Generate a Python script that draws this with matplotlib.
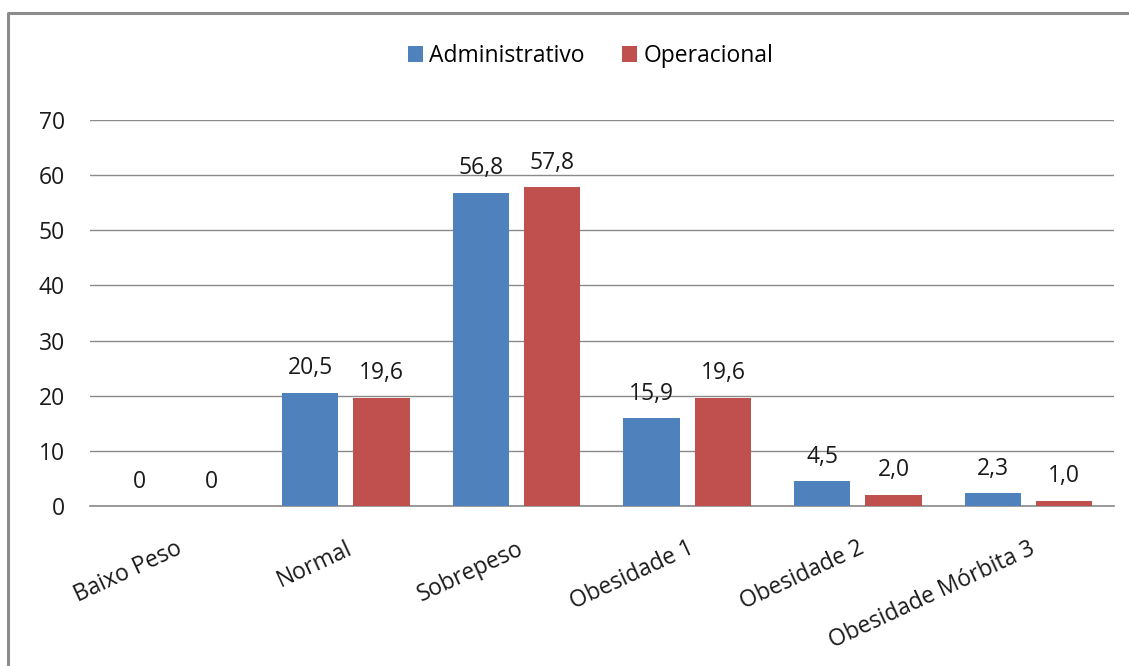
import matplotlib
matplotlib.use('Agg')
import matplotlib.pyplot as plt
from matplotlib.lines import Line2D
import numpy as np

categorias = ['Baixo Peso', 'Normal', 'Sobrepeso', 'Obesidade 1', 'Obesidade 2', 'Obesidade Mórbita 3']
administrativo = [0, 20.5, 56.8, 15.9, 4.5, 2.3]
operacional = [0, 19.6, 57.8, 19.6, 2.0, 1.0]
rotulos_adm = ['0', '20,5', '56,8', '15,9', '4,5', '2,3']
rotulos_op = ['0', '19,6', '57,8', '19,6', '2,0', '1,0']
yticks = [0, 10, 20, 30, 40, 50, 60, 70]

plt.rcParams['font.family'] = ['Open Sans', 'DejaVu Sans']
FS = 16.5
TXT = '#1a1a1a'

fig = plt.figure(figsize=(11.29, 6.66), dpi=100)
ax = fig.add_axes([0.0797, 0.2402, 0.9070, 0.5796])

x = np.arange(len(categorias))
w = 0.33
off = 0.209
b1 = ax.bar(x - off, administrativo, w, color='#4F81BD', label='Administrativo', zorder=3)
b2 = ax.bar(x + off, operacional, w, color='#C0504D', label='Operacional', zorder=3)

for bars, rot in ((b1, rotulos_adm), (b2, rotulos_op)):
    for b, t in zip(bars, rot):
        ax.annotate(t, (b.get_x() + b.get_width() / 2, b.get_height()),
                    xytext=(0, 9), textcoords='offset points',
                    ha='center', va='bottom', fontsize=FS, color=TXT)

ax.set_xlim(-0.5, len(categorias) - 0.5)
ax.set_ylim(0, 70)
ax.set_yticks(yticks)
ax.set_yticklabels([str(v) for v in yticks], fontsize=FS, color=TXT)
ax.yaxis.grid(True, color='#8a8a8a', linewidth=1.0, zorder=0)
ax.set_axisbelow(True)
ax.tick_params(axis='y', length=0, pad=18)
ax.tick_params(axis='x', length=0, pad=22)
ax.set_xticks(x)
ax.set_xticklabels(categorias, rotation=25, ha='right', rotation_mode='anchor',
                   fontsize=FS, color=TXT)
for s in ['top', 'right', 'left']:
    ax.spines[s].set_visible(False)
ax.spines['bottom'].set_color('#8a8a8a')
ax.spines['bottom'].set_linewidth(1.2)

fig.legend(handles=[b1, b2], loc='center', bbox_to_anchor=(0.523, 0.916), ncol=2,
           frameon=False, fontsize=FS, handlelength=0.65, handleheight=0.65,
           handletextpad=0.3, columnspacing=1.6)

# outer frame (left and top edges only)
x0 = 8 / 1129
y0 = 1 - 13 / 666
fig.add_artist(Line2D([x0, x0, 1], [0, y0, y0], transform=fig.transFigure,
                      color='#8c8c8c', linewidth=2.2))

fig.savefig('out.png', dpi=100)
